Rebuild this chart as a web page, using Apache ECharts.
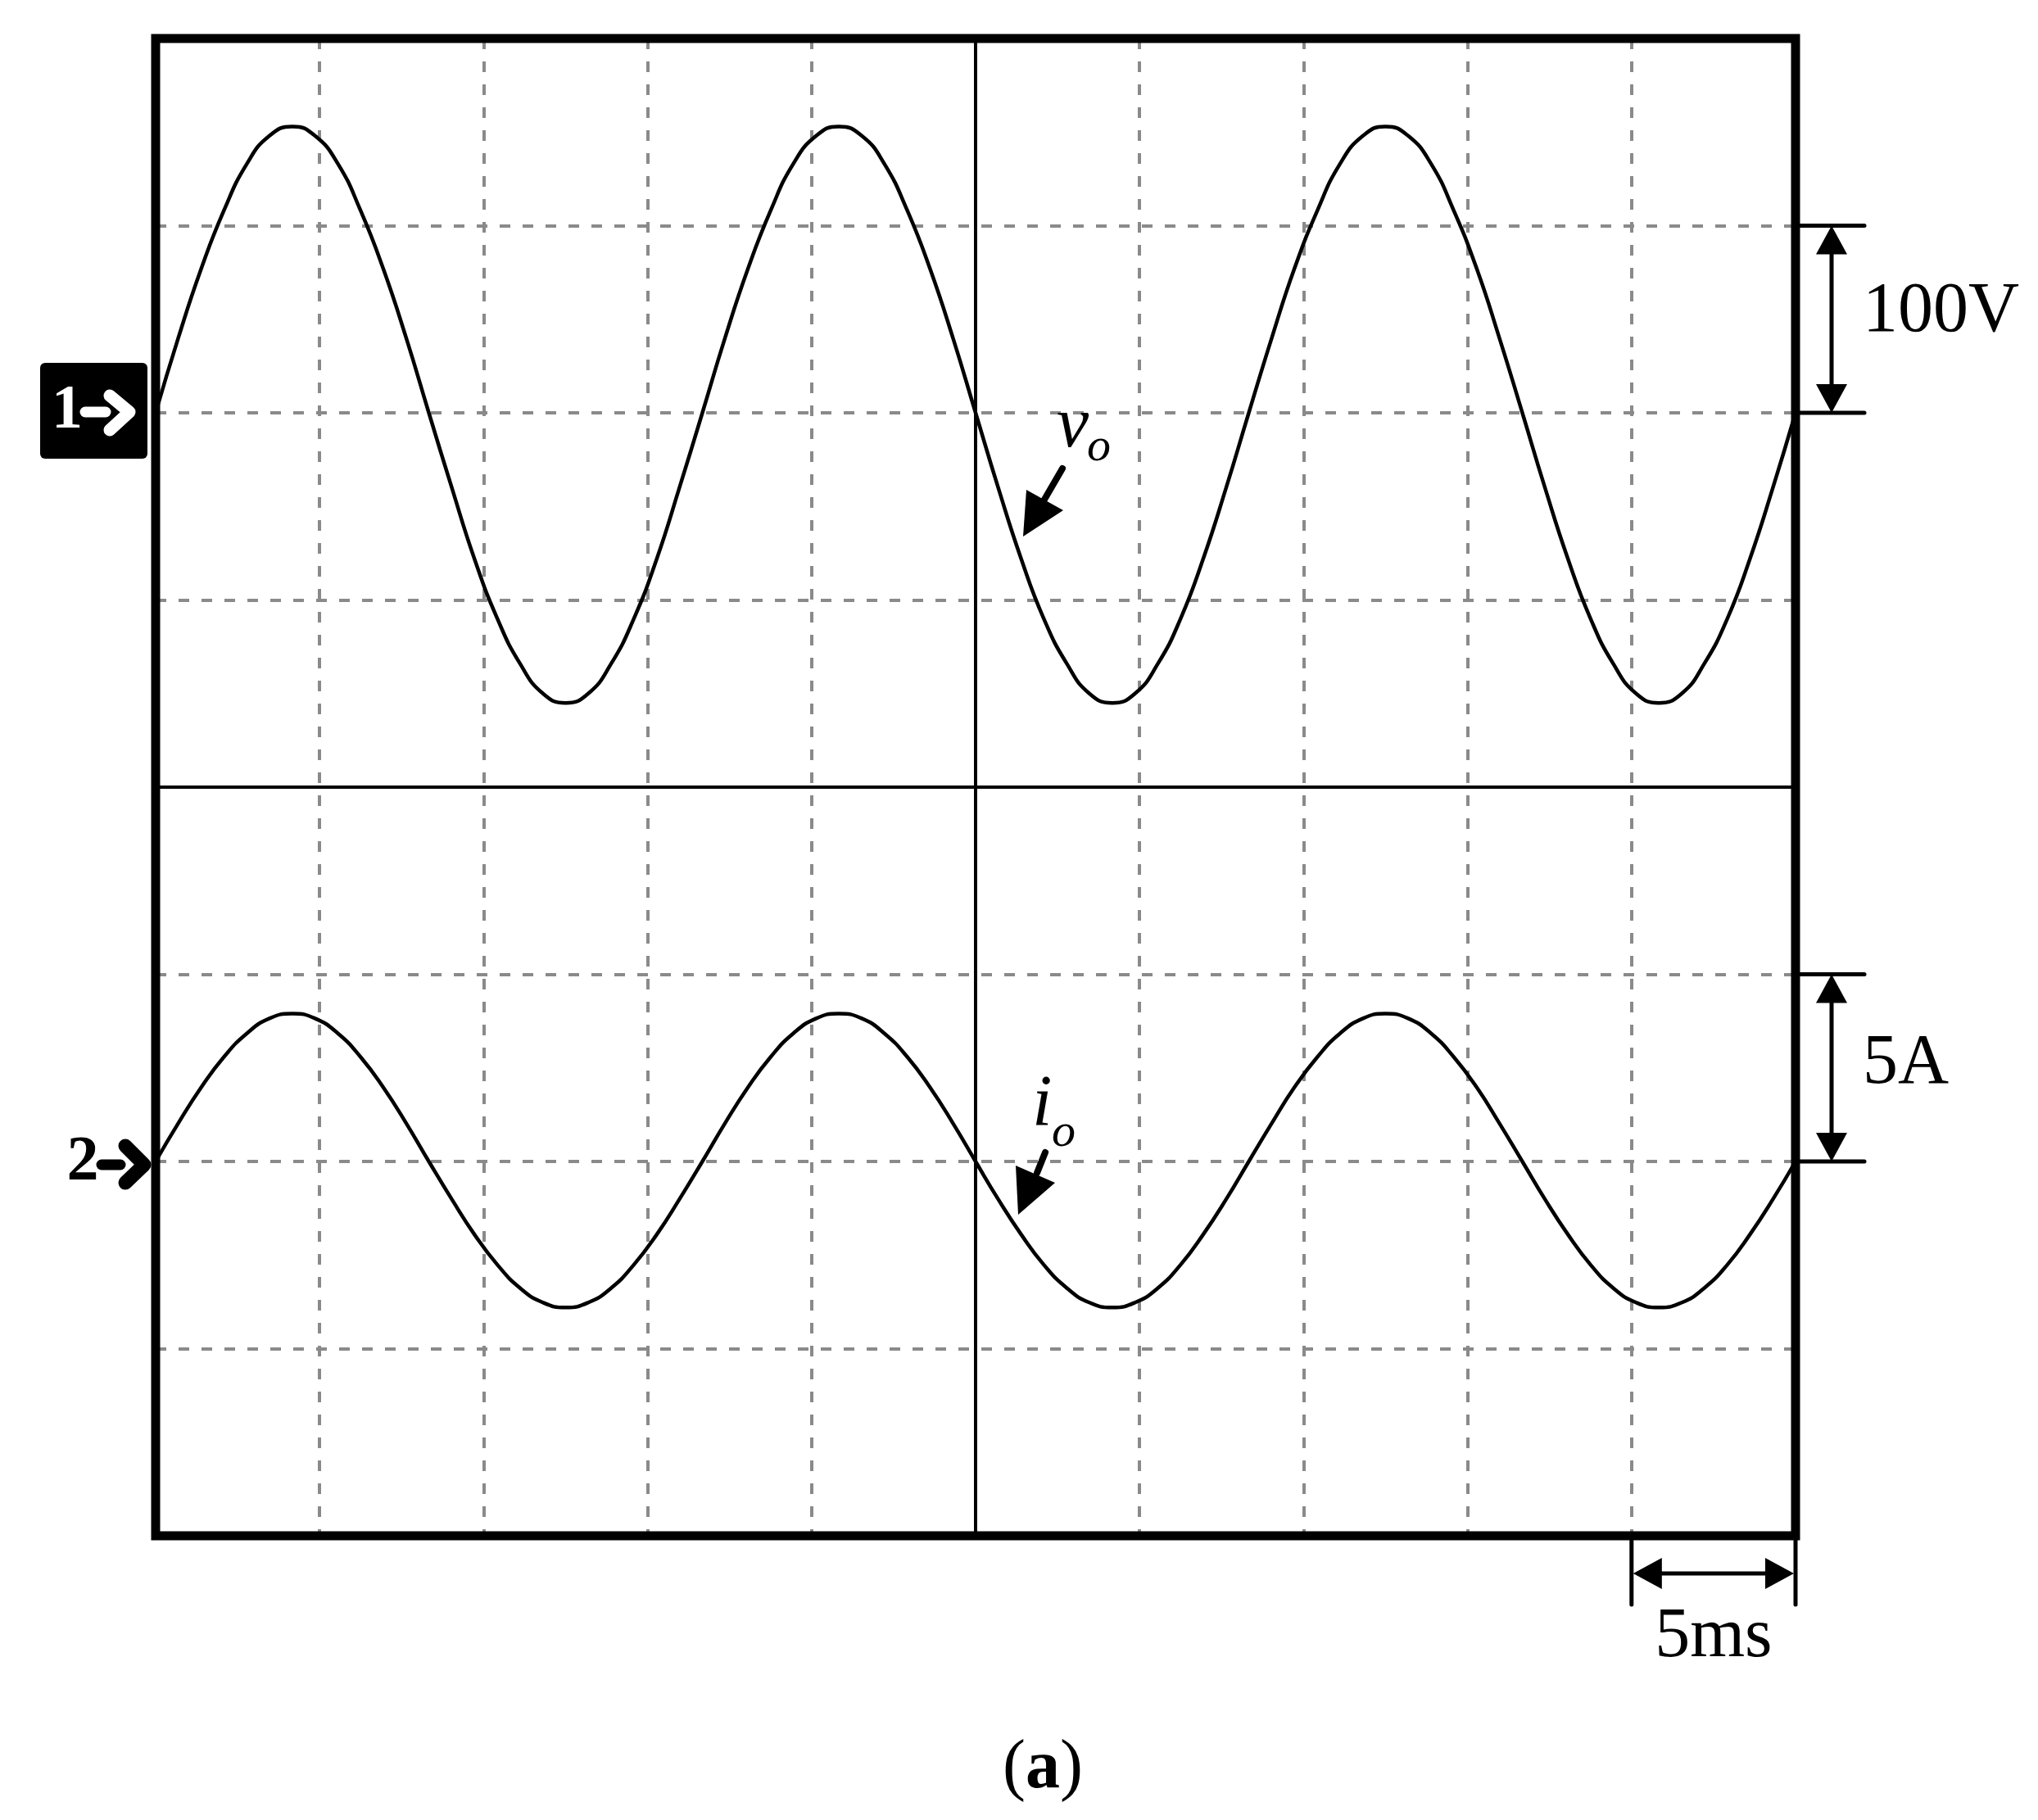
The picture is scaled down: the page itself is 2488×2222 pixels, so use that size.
<!DOCTYPE html>
<html>
<head>
<meta charset="utf-8">
<script src="https://cdn.jsdelivr.net/npm/echarts@6/dist/echarts.min.js"></script>
<style>
  html, body { margin: 0; padding: 0; background: #fff; }
  #scope { width: 2488px; height: 2222px; }
</style>
</head>
<body>
<div id="scope"></div>
<script>
  // sample times (ms) at 15 degree steps of the 60 Hz wave
  var timeMs = [0, 0.69, 1.39, 2.08, 2.78, 3.47, 4.17, 4.86, 5.56, 6.25, 6.94, 7.64,
    8.33, 9.03, 9.72, 10.42, 11.11, 11.81, 12.5, 13.19, 13.89, 14.58, 15.28, 15.97,
    16.67, 17.36, 18.06, 18.75, 19.44, 20.14, 20.83, 21.53, 22.22, 22.92, 23.61, 24.31,
    25, 25.69, 26.39, 27.08, 27.78, 28.47, 29.17, 29.86, 30.56, 31.25, 31.94, 32.64,
    33.33, 34.03, 34.72, 35.42, 36.11, 36.81, 37.5, 38.19, 38.89, 39.58, 40.28, 40.97,
    41.67, 42.36, 43.06, 43.75, 44.44, 45.14, 45.83, 46.53, 47.22, 47.92, 48.61, 49.31, 50];
  // output voltage v_o (V)
  var voltage = [0, 40, 77, 108, 133, 148, 153, 148, 133, 108, 77, 40,
    0, -40, -78, -110, -134, -150, -155, -150, -134, -110, -78, -40,
    0, 40, 77, 108, 133, 148, 153, 148, 133, 108, 77, 40,
    0, -40, -78, -110, -134, -150, -155, -150, -134, -110, -78, -40,
    0, 40, 77, 108, 133, 148, 153, 148, 133, 108, 77, 40,
    0, -40, -78, -110, -134, -150, -155, -150, -134, -110, -78, -40, 0];
  // output current i_o (A)
  var current = [0, 1.02, 1.98, 2.79, 3.42, 3.82, 3.95, 3.82, 3.42, 2.79, 1.98, 1.02,
    0, -1.01, -1.95, -2.76, -3.38, -3.77, -3.9, -3.77, -3.38, -2.76, -1.95, -1.01,
    0, 1.02, 1.98, 2.79, 3.42, 3.82, 3.95, 3.82, 3.42, 2.79, 1.98, 1.02,
    0, -1.01, -1.95, -2.76, -3.38, -3.77, -3.9, -3.77, -3.38, -2.76, -1.95, -1.01,
    0, 1.02, 1.98, 2.79, 3.42, 3.82, 3.95, 3.82, 3.42, 2.79, 1.98, 1.02,
    0, -1.01, -1.95, -2.76, -3.38, -3.77, -3.9, -3.77, -3.38, -2.76, -1.95, -1.01, 0];

  // scope settings: 5 ms/div, ch1 100 V/div, ch2 5 A/div
  var timeDiv = 5, voltDiv = 100, ampDiv = 5;
  var scaleLabels = ['100V', '5A', '5ms'];

  var serif = '"Liberation Serif", "Times New Roman", serif';
  var dashStyle = { color: '#8a8a8a', width: 4, type: [13, 15] };

  var chart = echarts.init(document.getElementById('scope'));

  chart.setOption({
    animation: false,
    backgroundColor: '#fff',
    grid: { left: 190, top: 47, width: 2002, height: 1828 },
    xAxis: {
      type: 'value', min: 0, max: 50, interval: timeDiv,
      axisLine: { show: false }, axisTick: { show: false }, axisLabel: { show: false },
      splitLine: { show: true, showMinLine: false, showMaxLine: false, lineStyle: dashStyle }
    },
    yAxis: [
      {
        type: 'value', min: -600, max: 200, interval: voltDiv,
        axisLine: { show: false }, axisTick: { show: false }, axisLabel: { show: false },
        splitLine: { show: true, showMinLine: false, showMaxLine: false, lineStyle: dashStyle }
      },
      {
        type: 'value', min: -10, max: 30, interval: ampDiv,
        axisLine: { show: false }, axisTick: { show: false }, axisLabel: { show: false },
        splitLine: { show: false }
      }
    ],
    series: [
      {
        name: 'vo', type: 'line', yAxisIndex: 0, smooth: true, showSymbol: false,
        lineStyle: { color: '#000', width: 4.5 },
        data: timeMs.map(function (t, i) { return [t, voltage[i]]; }),
        markLine: {
          silent: true, symbol: ['none', 'none'], label: { show: false },
          lineStyle: { color: '#000', width: 4, type: 'solid' },
          data: [{ yAxis: -200 }, { xAxis: 25 }]
        }
      },
      {
        name: 'io', type: 'line', yAxisIndex: 1, smooth: true, showSymbol: false,
        lineStyle: { color: '#000', width: 4.5 },
        data: timeMs.map(function (t, i) { return [t, current[i]]; })
      }
    ]
  });

  // annotations, placed from the axis scales
  function px(s, t, v) { return chart.convertToPixel({ seriesIndex: s }, [t, v]); }
  function tri(p1, p2, p3) {
    return { type: 'polygon', z: 110, shape: { points: [p1, p2, p3] }, style: { fill: '#000' } };
  }
  function seg(x1, y1, x2, y2, w) {
    return { type: 'line', z: 110, shape: { x1: x1, y1: y1, x2: x2, y2: y2 },
      style: { stroke: '#000', lineWidth: w || 5, lineCap: 'round' } };
  }
  function txt(s, x, y, size, extra) {
    var st = { text: s, x: x, y: y, fontSize: size, fontFamily: serif, fill: '#000',
      align: 'left', verticalAlign: 'middle' };
    for (var k in extra) st[k] = extra[k];
    return { type: 'text', z: 120, style: st };
  }

  var tl = px(0, 0, 200), br = px(0, 50, -600);
  var xr = br[0], yb = br[1];
  var g = [];

  // frame
  g.push({ type: 'rect', z: 100, shape: { x: tl[0], y: tl[1], width: br[0] - tl[0], height: br[1] - tl[1] },
    style: { fill: 'none', stroke: '#000', lineWidth: 11 } });

  // vertical scale bars (100V, 5A)
  [[0, voltDiv, scaleLabels[0], -8], [1, ampDiv, scaleLabels[1], -4]].forEach(function (c) {
    var y0 = px(c[0], 50, 0)[1], y1 = px(c[0], 50, c[1])[1];
    var ax = xr + 44;
    g.push(seg(xr + 4, y1, xr + 84, y1, 5), seg(xr + 4, y0, xr + 84, y0, 5));
    g.push(seg(ax, y1 + 30, ax, y0 - 30, 5));
    g.push(tri([ax, y1], [ax - 19, y1 + 35], [ax + 19, y1 + 35]));
    g.push(tri([ax, y0], [ax - 19, y0 - 35], [ax + 19, y0 - 35]));
    g.push(txt(c[2], xr + 82, (y0 + y1) / 2 + c[3], 86));
  });

  // time scale bar (5ms)
  var xa = px(0, 50 - timeDiv, -600)[0], xb = br[0];
  var ya = yb + 46;
  g.push(seg(xa, yb + 4, xa, yb + 84, 5), seg(xb, yb + 4, xb, yb + 84, 5));
  g.push(seg(xa + 30, ya, xb - 30, ya, 5));
  g.push(tri([xa + 2, ya], [xa + 37, ya - 19], [xa + 37, ya + 19]));
  g.push(tri([xb - 2, ya], [xb - 37, ya - 19], [xb - 37, ya + 19]));
  g.push(txt(scaleLabels[2], (xa + xb) / 2, yb + 124, 86, { align: 'center' }));

  // channel 1 marker
  var v0 = px(0, 0, 0)[1];
  g.push({ type: 'rect', z: 110, shape: { x: 49, y: v0 - 61, width: 131, height: 117, r: 6 }, style: { fill: '#000' } });
  g.push(txt('1', 82, v0 - 2, 76, { fill: '#fff', fontWeight: 'bold', align: 'center' }));
  g.push({ type: 'line', z: 120, shape: { x1: 104, y1: v0 - 1, x2: 129, y2: v0 - 1 },
    style: { stroke: '#fff', lineWidth: 13, lineCap: 'round' } });
  g.push({ type: 'polyline', z: 120, shape: { points: [[134, v0 - 21], [158, v0 - 1], [134, v0 + 21]] },
    style: { stroke: '#fff', lineWidth: 15, lineCap: 'round', lineJoin: 'round', fill: 'none' } });

  // channel 2 marker
  var i0 = px(1, 0, 0)[1];
  g.push(txt('2', 101, i0 + 2, 78, { fontWeight: 'bold', align: 'center' }));
  g.push({ type: 'line', z: 120, shape: { x1: 124, y1: i0 + 4, x2: 147, y2: i0 + 4 },
    style: { stroke: '#000', lineWidth: 13, lineCap: 'round' } });
  g.push({ type: 'polyline', z: 120, shape: { points: [[153, i0 - 19], [176, i0 + 4], [153, i0 + 26]] },
    style: { stroke: '#000', lineWidth: 17, lineCap: 'round', lineJoin: 'round', fill: 'none' } });

  // trace labels v_o, i_o with arrows
  g.push(txt('v', 1290, 522, 88, { fontStyle: 'italic' }));
  g.push(txt('o', 1327, 547, 58, { fontStyle: 'italic' }));
  g.push(seg(1297, 572, 1272, 615, 8));
  g.push(tri([1249, 655], [1253, 598], [1298, 623]));

  g.push(txt('i', 1260, 1350, 88, { fontStyle: 'italic' }));
  g.push(txt('o', 1284, 1384, 58, { fontStyle: 'italic' }));
  g.push(seg(1276, 1407, 1266, 1432, 8));
  g.push(tri([1243, 1483], [1240, 1423], [1288, 1444]));

  // caption
  g.push({ type: 'text', z: 120, style: {
    text: '{p|(}{b|a}{p|)}', x: 1273, y: 2160, align: 'center', verticalAlign: 'middle',
    rich: {
      p: { fontSize: 84, fontFamily: serif, fontWeight: 'normal', fill: '#000' },
      b: { fontSize: 84, fontFamily: serif, fontWeight: 'bold', fill: '#000' }
    }
  } });

  chart.setOption({ graphic: g });
</script>
</body>
</html>
